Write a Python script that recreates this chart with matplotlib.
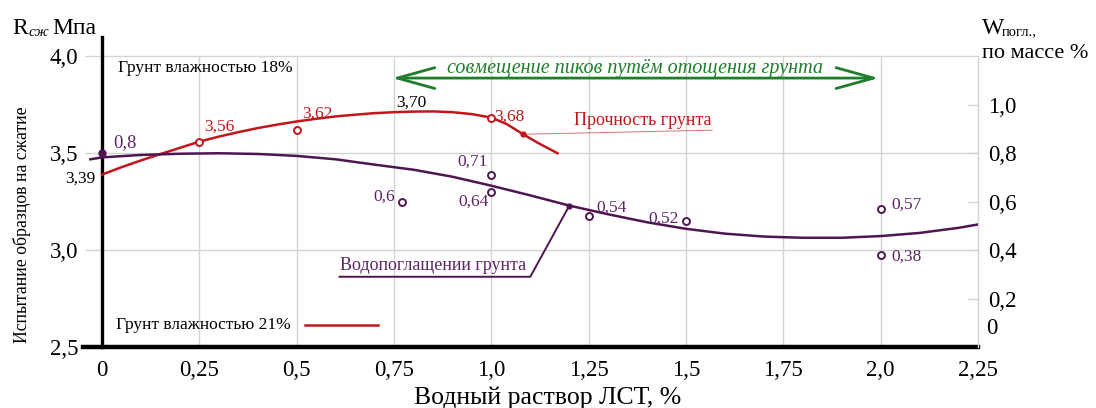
import numpy as np
import matplotlib
matplotlib.use("Agg")
import matplotlib.pyplot as plt

plt.rcParams['font.family'] = ['Liberation Serif', 'DejaVu Serif']

# --- data ---
# red curve: compressive strength, R (MPa), left axis
red_x = [0.00, 0.05, 0.10, 0.15, 0.20, 0.25, 0.30, 0.35, 0.40, 0.45, 0.50, 0.55,
         0.60, 0.65, 0.70, 0.75, 0.80, 0.85, 0.90, 0.95, 1.00, 1.04, 1.08, 1.12, 1.17]
red_y = [3.390, 3.428, 3.463, 3.496, 3.528, 3.560, 3.586, 3.609, 3.630, 3.648, 3.664, 3.678,
         3.690, 3.699, 3.707, 3.712, 3.715, 3.716, 3.712, 3.702, 3.684, 3.650, 3.600, 3.553, 3.500]
red_pts_x = [0.25, 0.5, 1.0]
red_pts_y = [3.56, 3.62, 3.68]
red_labels = ['3,56', '3,62', '3,68']
red_dot = (1.082, 3.598)
red_start_label = '3,39'
red_peak = (0.82, 3.716)
red_peak_label = '3,70'

# purple curve: water absorption, W (% by mass), right axis
pur_x = [-0.03, 0.00, 0.10, 0.20, 0.30, 0.40, 0.50, 0.60, 0.70, 0.80, 0.90, 1.00, 1.10,
         1.20, 1.30, 1.40, 1.50, 1.60, 1.70, 1.80, 1.90, 2.00, 2.10, 2.20, 2.25]
pur_y = [0.775, 0.783, 0.793, 0.798, 0.800, 0.797, 0.789, 0.775, 0.753, 0.732, 0.703, 0.666,
         0.626, 0.584, 0.548, 0.515, 0.488, 0.468, 0.456, 0.451, 0.451, 0.458, 0.471, 0.492, 0.506]
pur_pts_x = [0.77, 1.0, 1.0, 1.25, 1.5, 2.0, 2.0]
pur_pts_y = [0.60, 0.71, 0.64, 0.54, 0.52, 0.57, 0.38]
pur_labels = ['0,6', '0,71', '0,64', '0,54', '0,52', '0,57', '0,38']
pur_start = (0.0, 0.80)
pur_start_label = '0,8'
pur_dot = (1.2, 0.583)

x_ticks = [0, 0.25, 0.5, 0.75, 1.0, 1.25, 1.5, 1.75, 2.0, 2.25]
x_ticklabels = ['0', '0,25', '0,5', '0,75', '1,0', '1,25', '1,5', '1,75', '2,0', '2,25']
left_ticks = [2.5, 3.0, 3.5, 4.0]
left_ticklabels = ['2,5', '3,0', '3,5', '4,0']
right_ticks = [0.2, 0.4, 0.6, 0.8, 1.0]
right_ticklabels = ['0,2', '0,4', '0,6', '0,8', '1,0']

# --- styles ---
RED = '#c0171d'
PUR = '#4e1650'
PUR_T = '#5e2466'
GREEN = '#1f7d2b'
GRID = '#d4d4d4'

fig = plt.figure(figsize=(10.96, 4.08), dpi=100)
ax = fig.add_axes([83/1096, 1-347/408, (978-83)/1096, (347-37)/408])
ax.set_xlim(-0.049, 2.25)
ax.set_ylim(2.5, 4.1)

ax2 = ax.twinx()
ax2.set_ylim(0, 1.6/1.25)

# grid
ax.vlines(x_ticks[1:-1], 2.5, 4.0, color=GRID, lw=1, zorder=0)
ax.hlines([3.0, 3.5, 4.0], 0, 2.25, color=GRID, lw=1, zorder=0)

# spines
ax.spines['top'].set_visible(False)
ax.spines['right'].set_visible(False)
for s in ['left', 'bottom', 'top']:
    ax2.spines[s].set_visible(False)
ax.spines['left'].set_position(('data', 0))
ax.spines['left'].set_linewidth(2.4)
ax.spines['bottom'].set_linewidth(3.2)
ax2.spines['right'].set_bounds(0, 1.2)
ax2.spines['right'].set_color(GRID)
ax2.spines['right'].set_linewidth(1)

ax.set_xticks(x_ticks)
ax.set_xticklabels(x_ticklabels, fontsize=16.5)
ax.tick_params(axis='x', length=0, pad=9)
ax.set_yticks(left_ticks)
ax.set_yticklabels(left_ticklabels, fontsize=16.5)
ax.tick_params(axis='y', length=12, color=GRID, width=1, pad=5)
ax2.set_yticks(right_ticks)
ax2.set_yticklabels(right_ticklabels, fontsize=16.5)
ax2.tick_params(axis='y', direction='in', length=7, color=GRID, width=1, pad=7)
ax2.annotate('0', (1.0, 0.078), xycoords=ax2.get_yaxis_transform(), xytext=(8, 0),
             textcoords='offset pixels', fontsize=16.5, ha='left', va='center')

# red curve
ax.plot(red_x, red_y, color=RED, lw=1.8, zorder=3)
ax.plot(red_pts_x, red_pts_y, 'o', ms=5, mfc='white', mec=RED, mew=1.4, zorder=4)
ax.plot(*red_dot, 'o', ms=3.5, color=RED, zorder=4)
red_off = [(5, 15), (5, 16), (3, 2)]
for x, y, lab, off in zip(red_pts_x, red_pts_y, red_labels, red_off):
    ax.annotate(lab, (x, y), xytext=off, textcoords='offset pixels', color=RED,
                fontsize=12.5, ha='left', va='center')
ax.annotate(red_start_label, (0, red_y[0]), xytext=(-7, -4), textcoords='offset pixels',
            fontsize=12.5, ha='right', va='center')
ax.annotate(red_peak_label, red_peak, xytext=(-25, 9), textcoords='offset pixels',
            fontsize=12.5, ha='left', va='center')
# leader "Прочность грунта"
ax.plot([red_dot[0], 1.567], [red_dot[1], 3.619], color=RED, lw=0.7, alpha=0.6)
ax.text(1.213, 3.67, 'Прочность грунта', color=RED, fontsize=13, ha='left', va='center')

# purple curve
ax2.plot(pur_x, pur_y, color=PUR, lw=1.8, zorder=3)
ax2.plot(pur_pts_x, pur_pts_y, 'o', ms=5, mfc='white', mec=PUR, mew=1.4, zorder=4)
ax2.plot(*pur_start, 'o', ms=5, color=PUR, zorder=5, clip_on=False)
ax2.plot(*pur_dot, 'o', ms=3.5, color=PUR, zorder=4)
pur_off = [(-7, 5, 'right'), (-4, 13, 'right'), (-3, -10, 'right'), (8, 9, 'left'),
           (-7, 2, 'right'), (11, 4, 'left'), (11, -2, 'left')]
for x, y, lab, (dx, dy, ha) in zip(pur_pts_x, pur_pts_y, pur_labels, pur_off):
    ax2.annotate(lab, (x, y), xytext=(dx, dy), textcoords='offset pixels', color=PUR_T,
                 fontsize=12.5, ha=ha, va='center')
ax2.annotate(pur_start_label, pur_start, xytext=(11, 11), textcoords='offset pixels',
             color=PUR_T, fontsize=13.5, ha='left', va='center')
# leader "Водопоглащении грунта"
ax2.plot([pur_dot[0], 1.1, 0.61], [pur_dot[1], 0.29, 0.29], color=PUR, lw=1.4)
ax2.text(0.61, 0.335, 'Водопоглащении грунта', color=PUR_T, fontsize=13,
         ha='left', va='center')

# green double arrow
ax.annotate('', xy=(0.745, 3.888), xytext=(1.995, 3.888),
            arrowprops=dict(arrowstyle='<->,head_length=2.7,head_width=0.75',
                            color=GREEN, lw=2, mutation_scale=10,
                            shrinkA=0, shrinkB=0))
ax.text(1.37, 3.935, 'совмещение пиков путём отощения грунта', color=GREEN,
        fontsize=14.5, style='italic', ha='center', va='center')

# in-plot notes
ax.text(0.04, 3.94, 'Грунт влажностью 18%', fontsize=12.5, ha='left', va='center')
ax.text(0.035, 2.613, 'Грунт влажностью 21%', fontsize=12.5, ha='left', va='center')
ax.plot([0.52, 0.708], [2.613, 2.613], color=RED, lw=1.8)

# axis titles
fig.text(548/1096, 1-398/408, 'Водный раствор ЛСТ, %', fontsize=18.5, ha='center', va='center')
fig.text(22/1096, 1-225/408, 'Испытание образцов на сжатие', fontsize=12.8,
         rotation=90, ha='center', va='center')
fig.text(12/1096, 1-28/408, 'R', fontsize=17, ha='left', va='center')
fig.text(29/1096, 1-33/408, 'сж', fontsize=11, ha='left', va='center', style='italic')
fig.text(52/1096, 1-28/408, 'Мпа', fontsize=17, ha='left', va='center')
fig.text(982/1096, 1-28/408, 'W', fontsize=17, ha='left', va='center')
fig.text(1002/1096, 1-32/408, 'погл.,', fontsize=10.5, ha='left', va='center')
fig.text(982/1096, 1-54/408, 'по массе %', fontsize=16, ha='left', va='center')

fig.savefig('out.png', dpi=100)
